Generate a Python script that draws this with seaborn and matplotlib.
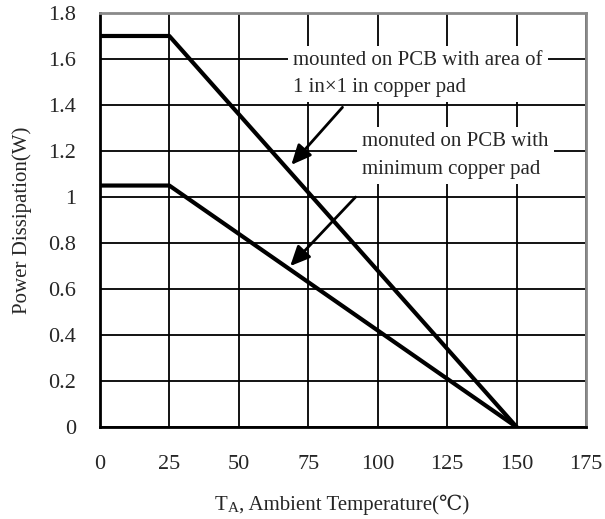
import pandas as pd
import matplotlib
matplotlib.use("Agg")
import matplotlib.pyplot as plt
import seaborn as sns

# derating curves
temps = [0, 25, 150]
pd_copper_1in = [1.7, 1.7, 0.0]
pd_min_copper = [1.05, 1.05, 0.0]

x_ticks = [0, 25, 50, 75, 100, 125, 150, 175]
y_ticks = [0, 0.2, 0.4, 0.6, 0.8, 1.0, 1.2, 1.4, 1.6, 1.8]
y_tick_labels = ["0", "0.2", "0.4", "0.6", "0.8", "1", "1.2", "1.4", "1.6", "1.8"]

df = pd.DataFrame({
    "temp": temps * 2,
    "power": pd_copper_1in + pd_min_copper,
    "board": ["1in"] * 3 + ["min"] * 3,
})

sns.set_style("white")
plt.rcParams["font.family"] = ["Liberation Serif", "DejaVu Serif", "DejaVu Sans"]

fig = plt.figure(figsize=(6.05, 5.19), dpi=100)
ax = fig.add_axes([0.165, 0.177, 0.804, 0.798])

sns.lineplot(data=df, x="temp", y="power", hue="board", palette=["black", "black"],
             linewidth=3, legend=False, ax=ax, zorder=3)

ax.set_xlim(0, 175)
ax.set_ylim(0, 1.8)
ax.set_xticks(x_ticks)
ax.set_yticks(y_ticks)
ax.set_yticklabels(y_tick_labels)
ax.tick_params(length=0, labelsize=16)
ax.tick_params(axis="x", pad=20)
ax.tick_params(axis="y", pad=17)
ax.grid(True, color="black", linewidth=1.3, zorder=1)
ax.set_axisbelow(True)

for side in ["left", "bottom"]:
    ax.spines[side].set_color("black")
    ax.spines[side].set_linewidth(2)
for side in ["top", "right"]:
    ax.spines[side].set_color("#8a8a8a")
    ax.spines[side].set_linewidth(2)

ax.set_ylabel("Power Dissipation(W)", fontsize=15, labelpad=12)
ax.set_xlabel("")

# x label: "T" + small "A" + rest, chained so they sit on one baseline
t1 = fig.text(0.355, 0.018, "T", fontsize=15, ha="left", va="baseline")
t2 = ax.annotate("A", xy=(1, 0), xycoords=t1, fontsize=11, ha="left", va="bottom",
                 annotation_clip=False)
ax.annotate(", Ambient Temperature(\u2103)", xy=(1, 0), xycoords=t2, fontsize=15,
            ha="left", va="bottom", annotation_clip=False)

box = dict(boxstyle="square,pad=0.25", fc="white", ec="none")
ax.text(69.5, 1.535, "mounted on PCB with area of\n1 in\u00d71 in copper pad",
        fontsize=15, va="center", ha="left", bbox=box, zorder=4, linespacing=1.6)
ax.text(94.5, 1.18, "monuted on PCB with\nminimum copper pad",
        fontsize=15, va="center", ha="left", bbox=box, zorder=4, linespacing=1.6)

arrow = dict(arrowstyle="-|>,head_length=1.2,head_width=0.55", color="black", lw=2,
             shrinkA=0, shrinkB=0)
ax.annotate("", xy=(68.9, 1.14), xytext=(87.3, 1.39), arrowprops=arrow, zorder=5)
ax.annotate("", xy=(68.5, 0.70), xytext=(92.0, 1.0), arrowprops=arrow, zorder=5)

fig.savefig("out.png", dpi=100)
